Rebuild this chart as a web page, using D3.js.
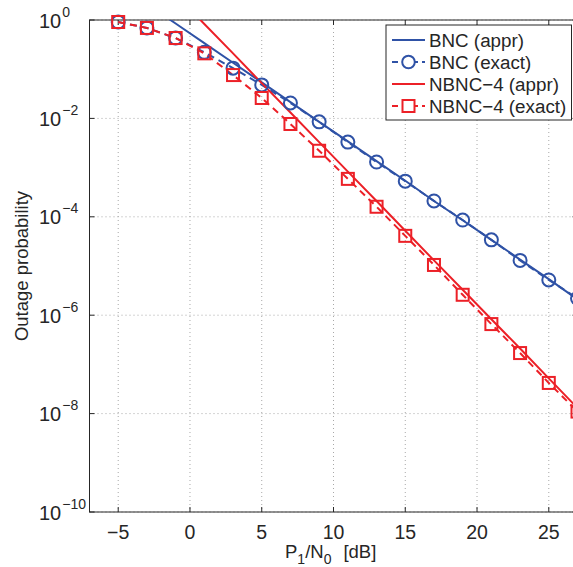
<!DOCTYPE html>
<html>
<head>
<meta charset="utf-8">
<script src="https://cdn.jsdelivr.net/npm/d3@7/dist/d3.min.js"></script>
<style>
  html, body { margin: 0; padding: 0; background: #fff; }
  svg { display: block; font-family: "Liberation Sans", Arial, Helvetica, sans-serif; }
</style>
</head>
<body>
<svg id="chart" width="573" height="567"></svg>
<script>
// ---- data ----
const xExact = [-5, -3, -1, 1, 3, 5, 7, 9, 11, 13, 15, 17, 19, 21, 23, 25, 27];
const bncExact = [0.91, 0.69, 0.43, 0.22, 0.105, 0.048, 0.0206, 0.0085, 0.0033, 0.0013,
                  5.3e-4, 2.1e-4, 8.6e-5, 3.4e-5, 1.3e-5, 5.2e-6, 2.2e-6];
const nbncExact = [0.91, 0.69, 0.43, 0.21, 0.076, 0.026, 0.0077, 0.0022, 5.9e-4, 1.6e-4,
                   4.1e-5, 1.05e-5, 2.6e-6, 6.6e-7, 1.7e-7, 4.2e-8, 1.1e-8];
const xAppr = [-3, -1, 1, 3, 5, 7, 9, 11, 13, 15, 17, 19, 21, 23, 25, 27];
const bncAppr = [2.1, 0.85, 0.34, 0.135, 0.054, 0.0214, 0.0085, 0.0034, 0.00135, 5.4e-4,
                 2.1e-4, 8.5e-5, 3.4e-5, 1.35e-5, 5.4e-6, 2.1e-6];
const nbncAppr = [20, 3.3, 0.83, 0.21, 0.052, 0.0132, 0.0033, 8.3e-4, 2.1e-4, 5.2e-5,
                  1.3e-5, 3.3e-6, 8.3e-7, 2.1e-7, 5.2e-8, 1.3e-8];
const xTicks = [-5, 0, 5, 10, 15, 20, 25];
const yTickExps = [0, -2, -4, -6, -8, -10];
const seriesNames = ["BNC (appr)", "BNC (exact)", "NBNC\u22124 (appr)", "NBNC\u22124 (exact)"];

// ---- layout ----
const svg = d3.select("#chart");
const L = 89.5, R = 577.5, T = 20, B = 512;
const blue = "#2f52a6", red = "#ec2027";
const ink = "#262626";

const x = d3.scaleLinear().domain([-7, 27]).range([L, R]);
const y = d3.scaleLog().domain([1e-10, 1]).range([B, T]);

svg.append("defs").append("clipPath").attr("id", "clip")
  .append("rect").attr("x", L).attr("y", T).attr("width", R - L).attr("height", B - T);

// grid
const grid = svg.append("g").attr("stroke", "#a8a8a8").attr("stroke-width", 1)
  .attr("stroke-dasharray", "1,3");
xTicks.forEach(t => grid.append("line").attr("x1", x(t)).attr("x2", x(t)).attr("y1", T).attr("y2", B));
yTickExps.forEach(e => grid.append("line").attr("x1", L).attr("x2", R).attr("y1", y(Math.pow(10, e))).attr("y2", y(Math.pow(10, e))));

// axes box with inward ticks
const ax = svg.append("g").attr("stroke", ink).attr("stroke-width", 1).attr("fill", "none");
ax.append("rect").attr("x", L).attr("y", T).attr("width", R - L).attr("height", B - T);
xTicks.forEach(t => {
  ax.append("line").attr("x1", x(t)).attr("x2", x(t)).attr("y1", B).attr("y2", B - 5);
  ax.append("line").attr("x1", x(t)).attr("x2", x(t)).attr("y1", T).attr("y2", T + 5);
});
yTickExps.forEach(e => {
  const yy = y(Math.pow(10, e));
  ax.append("line").attr("x1", L).attr("x2", L + 5).attr("y1", yy).attr("y2", yy);
  ax.append("line").attr("x1", R).attr("x2", R - 5).attr("y1", yy).attr("y2", yy);
});

// tick labels
const lab = svg.append("g").attr("fill", ink);
xTicks.forEach(t => {
  lab.append("text").attr("x", x(t)).attr("y", 539).attr("text-anchor", "middle").attr("font-size", 19.5)
    .text(t < 0 ? "\u2212" + Math.abs(t) : String(t));
});
yTickExps.forEach(e => {
  const yy = y(Math.pow(10, e));
  const tx = lab.append("text").attr("x", 39).attr("y", yy + 7.5).attr("font-size", 20);
  tx.append("tspan").text("10");
  tx.append("tspan").attr("dx", 1).attr("dy", -11).attr("font-size", 14)
    .text(e < 0 ? "\u2212" + Math.abs(e) : String(e));
});

// axis titles
const xl = lab.append("text").attr("x", 285).attr("y", 558).attr("font-size", 18.5);
xl.append("tspan").text("P");
xl.append("tspan").attr("font-size", 14).attr("dy", 6).text("1");
xl.append("tspan").attr("dy", -6).text("/N");
xl.append("tspan").attr("font-size", 14).attr("dy", 6).text("0");
xl.append("tspan").attr("dy", -6).attr("dx", 12).text("[dB]");

lab.append("text").attr("transform", `translate(27.5,${(T + B) / 2}) rotate(-90)`)
  .attr("text-anchor", "middle").attr("font-size", 18.5).text("Outage probability");

// lines
const line = d3.line().x(d => x(d[0])).y(d => y(d[1]));
const plot = svg.append("g").attr("clip-path", "url(#clip)").attr("fill", "none").attr("stroke-width", 2);
const zip = (xs, ys) => xs.map((v, i) => [v, ys[i]]);

plot.append("path").attr("d", line(zip(xAppr, bncAppr))).attr("stroke", blue);
plot.append("path").attr("d", line(zip(xExact, bncExact))).attr("stroke", blue).attr("stroke-dasharray", "7,5");
plot.append("path").attr("d", line(zip(xAppr, nbncAppr))).attr("stroke", red);
plot.append("path").attr("d", line(zip(xExact, nbncExact))).attr("stroke", red).attr("stroke-dasharray", "7,5");

// markers
const mk = svg.append("g").attr("fill", "none").attr("stroke-width", 2);
zip(xExact, bncExact).forEach(d => {
  mk.append("circle").attr("cx", x(d[0])).attr("cy", y(d[1])).attr("r", 6.5).attr("stroke", blue);
});
zip(xExact, nbncExact).forEach(d => {
  mk.append("rect").attr("x", x(d[0]) - 6).attr("y", y(d[1]) - 6).attr("width", 12).attr("height", 12).attr("stroke", red);
});

// legend
const lg = svg.append("g");
lg.append("rect").attr("x", 386).attr("y", 25).attr("width", 185.5).attr("height", 95)
  .attr("fill", "#fff").attr("stroke", ink).attr("stroke-width", 1);
const rows = [40, 62, 84, 106];
const styles = [
  {c: blue, dash: null, m: null},
  {c: blue, dash: "6,4", m: "circle"},
  {c: red, dash: null, m: null},
  {c: red, dash: "6,4", m: "square"}
];
rows.forEach((ry, i) => {
  const s = styles[i];
  const l = lg.append("line").attr("x1", 392).attr("x2", 425).attr("y1", ry).attr("y2", ry)
    .attr("stroke", s.c).attr("stroke-width", 2);
  if (s.dash) l.attr("stroke-dasharray", s.dash);
  if (s.m === "circle") lg.append("circle").attr("cx", 408.5).attr("cy", ry).attr("r", 6.3)
    .attr("fill", "#fff").attr("stroke", s.c).attr("stroke-width", 2);
  if (s.m === "square") lg.append("rect").attr("x", 402.5).attr("y", ry - 6).attr("width", 12).attr("height", 12)
    .attr("fill", "#fff").attr("stroke", s.c).attr("stroke-width", 2);
  lg.append("text").attr("x", 429).attr("y", ry + 7).attr("font-size", 18.8).attr("fill", ink)
    .text(seriesNames[i]);
});
</script>
</body>
</html>
